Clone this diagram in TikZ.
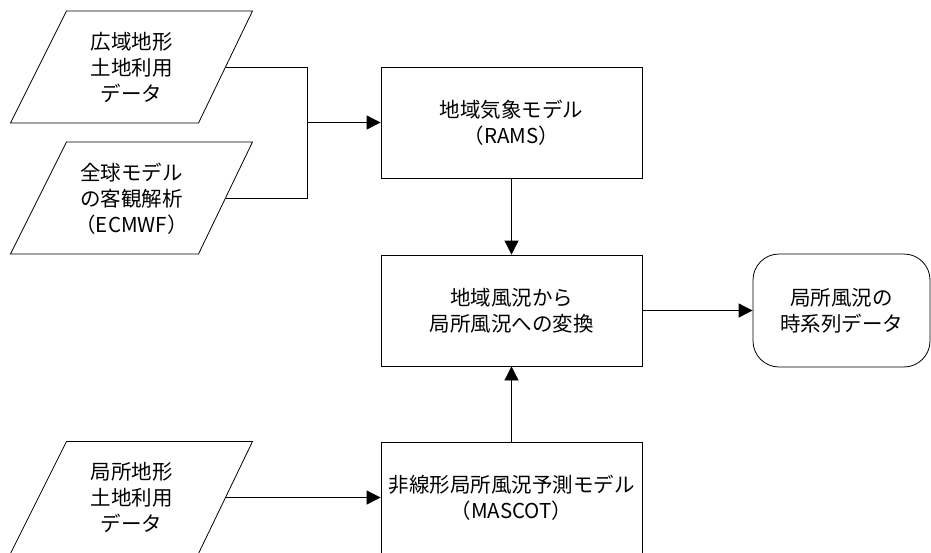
\documentclass[tikz,border=0pt]{standalone}
\usepackage{fontspec}
\setmainfont{Noto Sans CJK JP}
\usetikzlibrary{arrows.meta}
\begin{document}
\begin{tikzpicture}[x=1pt,y=-1pt,
  txt/.style={font=\fontsize{20.5pt}{26pt}\selectfont, align=center, inner sep=0pt},
  box/.style={draw, line width=0.8pt, txt, minimum width=261pt, minimum height=111pt},
  outbox/.style={draw, line width=0.8pt, txt, minimum width=177pt, minimum height=113pt, rounded corners=26pt},
  para/.style={draw, line width=0.8pt},
  conn/.style={line width=0.8pt},
  arr/.style={conn, -{Triangle[length=14pt,width=14pt]}}]
\path[use as bounding box, clip] (0,0) rectangle (931,552);
\fill[white] (0,0) rectangle (931,552);

% input parallelograms
\draw[para] (66.5,11) -- (252.5,11) -- (198.5,123) -- (10.5,123) -- cycle;
\node[txt] (p1) at (131.5,67) {広域地形\\土地利用\\データ};
\coordinate (p1r) at (225.5,67);

\draw[para] (66.5,142) -- (252.5,142) -- (198.5,254) -- (10.5,254) -- cycle;
\node[txt] (p2) at (131.5,199) {全球モデル\\の客観解析\\（ECMWF）};
\coordinate (p2r) at (225.5,198);

\draw[para] (66.5,441.5) -- (252.5,441.5) -- (198.5,553.5) -- (10.5,553.5) -- cycle;
\node[txt] (p3) at (131.5,497.5) {局所地形\\土地利用\\データ};
\coordinate (p3r) at (225.5,497.5);

% process boxes
\node[box] (rams) at (511.5,122.5) {地域気象モデル\\（RAMS）};
\node[box] (conv) at (511.5,310.5) {地域風況から\\局所風況への変換};
\node[box] (mascot) at (511.5,497.5) {非線形局所風況予測モデル\\（MASCOT）};
\node[outbox] (out) at (841.5,310.5) {局所風況の\\時系列データ};

% connectors
\coordinate (j1) at (307,122.5);
\draw[conn] (p1r) -- (p1r -| j1) -- (p2r -| j1) -- (p2r);
\draw[arr] (j1) -- (rams.west);
\draw[arr] (rams.south) -- (conv.north);
\draw[arr] (conv.east) -- (out.west);
\draw[arr] (mascot.north) -- (conv.south);
\draw[arr] (p3r) -- (mascot.west);
\end{tikzpicture}
\end{document}
